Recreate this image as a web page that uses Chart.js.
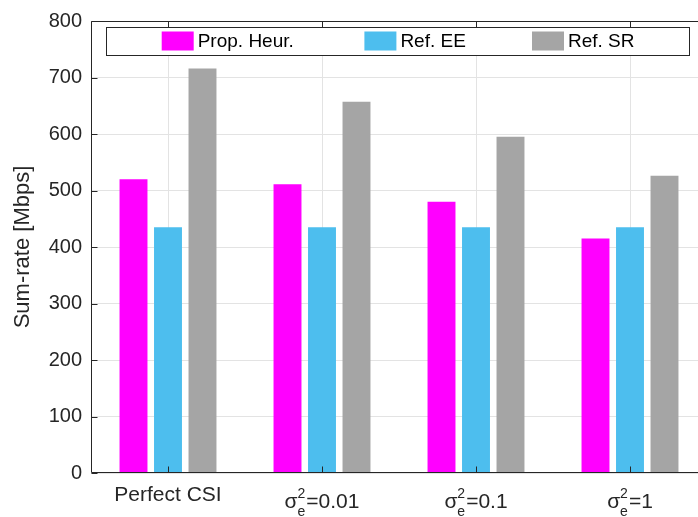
<!DOCTYPE html>
<html>
<head>
<meta charset="utf-8">
<script src="https://cdn.jsdelivr.net/npm/chart.js@4"></script>
<style>
  html, body { margin: 0; padding: 0; background: #fff; overflow: hidden; width: 698px; height: 517px; }
  canvas { display: block; }
</style>
</head>
<body>
<canvas id="c" width="716" height="517" style="width:716px;height:517px"></canvas>
<script>
// ---- data ----
const categories = ['Perfect CSI', 'σ_e^2=0.01', 'σ_e^2=0.1', 'σ_e^2=1'];
const seriesNames = ['Prop. Heur.', 'Ref. EE', 'Ref. SR'];
const propHeur = [520, 511, 480, 415];
const refEE = [435, 435, 435, 435];
const refSR = [716, 657, 595, 526];
const yTickValues = [0, 100, 200, 300, 400, 500, 600, 700, 800];
const yAxisTitle = 'Sum-rate [Mbps]';

const colors = ['#FF00FF', '#4DBEEE', '#A5A5A5'];
const FONT = '"Liberation Sans", Arial, Helvetica, sans-serif';
const AXIS = '#262626';

const framePlugin = {
  id: 'frameAndLegend',
  afterDatasetsDraw(chart) {
    const { ctx, chartArea: a, scales: { x, y } } = chart;
    ctx.save();
    ctx.strokeStyle = AXIS;
    ctx.lineWidth = 1;
    const L = Math.round(a.left) + 0.5, T = Math.round(a.top) + 0.5;
    const B = Math.round(a.bottom) - 0.5, R = Math.round(a.right) - 0.5;
    ctx.beginPath();
    ctx.moveTo(L, T); ctx.lineTo(R, T); ctx.lineTo(R, B); ctx.lineTo(L, B); ctx.closePath();
    const tl = 6;
    y.ticks.forEach((t, i) => {
      const py = Math.round(y.getPixelForTick(i)) + 0.5;
      ctx.moveTo(L, py); ctx.lineTo(L + tl, py);
      ctx.moveTo(R, py); ctx.lineTo(R - tl, py);
    });
    x.ticks.forEach((t, i) => {
      const px = Math.round(x.getPixelForTick(i)) + 0.5;
      ctx.moveTo(px, B); ctx.lineTo(px, B - tl);
      ctx.moveTo(px, T); ctx.lineTo(px, T + tl);
    });
    ctx.stroke();

    // legend box
    const lx0 = a.left + 15, lx1 = 689, ly0 = a.top + 6, ly1 = a.top + 34;
    ctx.fillStyle = '#fff';
    ctx.fillRect(lx0, ly0, lx1 - lx0, ly1 - ly0);
    ctx.strokeStyle = AXIS;
    ctx.strokeRect(Math.round(lx0) + 0.5, Math.round(ly0) + 0.5, Math.round(lx1 - lx0), Math.round(ly1 - ly0));
    const itemOffsets = [55.7, 258.4, 426];
    const cy = (ly0 + ly1) / 2;
    ctx.font = '19px ' + FONT;
    ctx.textBaseline = 'middle';
    ctx.textAlign = 'left';
    chart.data.datasets.forEach((ds, i) => {
      const sx = lx0 + itemOffsets[i];
      ctx.fillStyle = ds.backgroundColor;
      ctx.fillRect(sx, cy - 9.5, 32, 19);
      ctx.fillStyle = '#000';
      ctx.fillText(ds.label, sx + 36, cy + 1);
    });
    ctx.restore();
  },
  afterDraw(chart) {
    const { ctx, chartArea: a, scales: { x } } = chart;
    ctx.save();
    ctx.fillStyle = AXIS;
    ctx.textBaseline = 'alphabetic';
    const mainFont = '21px ' + FONT;
    const smallFont = '14px ' + FONT;
    chart.data.labels.forEach((label, i) => {
      const cx = x.getPixelForTick(i);
      const m = label.match(/^(.)_(.)\^(.)(.*)$/);
      if (!m) {
        ctx.font = mainFont;
        ctx.textAlign = 'center';
        ctx.fillText(label, cx, a.bottom + 28);
        return;
      }
      const [, base, sub, sup, rest] = m;
      ctx.textAlign = 'left';
      ctx.font = mainFont;
      const wBase = ctx.measureText(base).width;
      const wRest = ctx.measureText(rest).width;
      ctx.font = smallFont;
      const wScript = Math.max(ctx.measureText(sub).width, ctx.measureText(sup).width);
      const total = wBase + wScript + 1 + wRest;
      let sx = cx - total / 2;
      ctx.font = mainFont;
      ctx.fillText(base, sx, a.bottom + 35);
      sx += wBase;
      ctx.font = smallFont;
      ctx.fillText(sup, sx, a.bottom + 24.5);
      ctx.fillText(sub, sx, a.bottom + 43);
      sx += wScript + 1;
      ctx.font = mainFont;
      ctx.fillText(rest, sx, a.bottom + 35);
    });
    ctx.restore();
  }
};

const seriesValues = [propHeur, refEE, refSR];

new Chart(document.getElementById('c'), {
  type: 'bar',
  data: {
    labels: categories,
    datasets: seriesNames.map((name, i) => ({
      label: name,
      data: seriesValues[i],
      backgroundColor: colors[i],
      borderWidth: 0,
      categoryPercentage: 0.672,
      barPercentage: 0.81
    }))
  },
  options: {
    responsive: false,
    devicePixelRatio: 1,
    animation: false,
    layout: { padding: { top: 18, right: 9, left: 0, bottom: 0 } },
    plugins: { legend: { display: false }, tooltip: { enabled: false } },
    scales: {
      x: {
        offset: true,
        grid: { display: true, offset: false, color: '#e3e3e3', lineWidth: 1, drawTicks: false },
        border: { display: false },
        ticks: { display: false },
        afterFit(scale) { scale.height = 44; }
      },
      y: {
        min: 0,
        max: 800,
        afterBuildTicks(scale) { scale.ticks = yTickValues.map(v => ({ value: v })); },
        grid: { color: '#e3e3e3', lineWidth: 1, drawTicks: false },
        border: { display: false },
        ticks: {
          color: AXIS,
          padding: 9,
          font: { family: FONT, size: 20 }
        },
        title: {
          display: true,
          text: yAxisTitle,
          color: AXIS,
          font: { family: FONT, size: 22, lineHeight: 1.2 },
          padding: { top: 9.5, bottom: 0 }
        },
        afterFit(scale) { scale.width = 91; }
      }
    }
  },
  plugins: [framePlugin]
});
</script>
</body>
</html>
